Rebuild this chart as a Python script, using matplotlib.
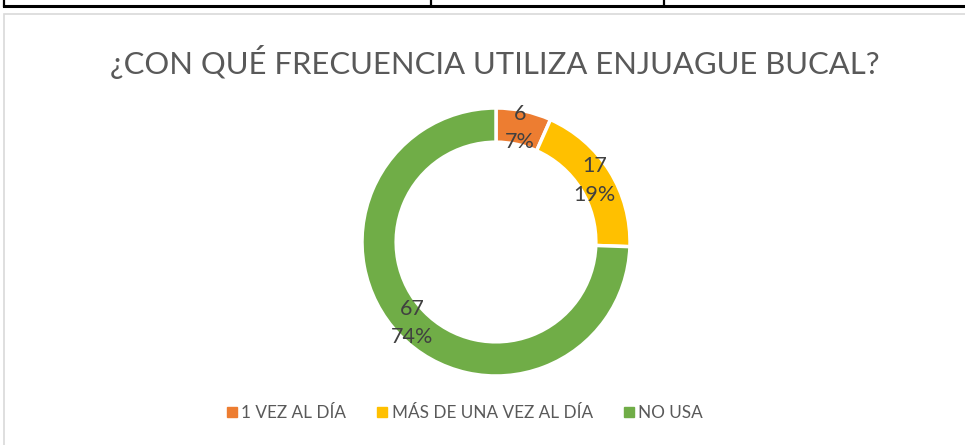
import numpy as np
import matplotlib.pyplot as plt
from matplotlib.lines import Line2D
from matplotlib.patches import Rectangle

plt.rcParams['font.family'] = ['Lato', 'DejaVu Sans']

categories = ['1 VEZ AL DÍA', 'MÁS DE UNA VEZ AL DÍA', 'NO USA']
values = [6, 17, 67]
colors = ['#ED7D31', '#FFC000', '#70AD47']
title = '¿CON QUÉ FRECUENCIA UTILIZA ENJUAGUE BUCAL?'

W, H = 965, 445
fig = plt.figure(figsize=(W / 100, H / 100), dpi=100)

def fx(px):
    return px / W

def fy(py):
    return 1 - py / H

# table border remnants at the top
fig.add_artist(Line2D([fx(4), fx(965)], [fy(5.5), fy(5.5)], color='black', lw=2.2))
for x in [4, 431, 664]:
    fig.add_artist(Line2D([fx(x), fx(x)], [fy(0), fy(5.5)], color='black', lw=1.6))

# chart frame
fig.add_artist(Rectangle((fx(4), fy(460)), fx(980), fy(14) - fy(460),
                         fill=False, edgecolor='#D9D9D9', lw=1.2))

fig.text(fx(495), fy(62), title, ha='center', va='center',
         fontsize=22.3, color='#595959')

# donut
cx, cy, r = 496, 242, 134
half = 160
ax = fig.add_axes([fx(cx - half), fy(cy + half), fx(2 * half), fy(0) - fy(2 * half)])
lim = half / r
wedges, _ = ax.pie(values, colors=colors, startangle=90, counterclock=False,
                   radius=1, wedgeprops=dict(width=0.255, edgecolor='white', linewidth=2.5))
ax.set_xlim(-lim, lim)
ax.set_ylim(-lim, lim)
ax.set_aspect('equal')
ax.axis('off')

total = sum(values)
for w, v in zip(wedges, values):
    ang = np.deg2rad((w.theta1 + w.theta2) / 2)
    rr = 0.87
    ax.text(rr * np.cos(ang), rr * np.sin(ang), f'{v}\n{v / total:.0%}',
            ha='center', va='center', fontsize=15.5, color='#404040', linespacing=1.55)

handles = [Line2D([], [], marker='s', linestyle='', markersize=6.5, color=c) for c in colors]
fig.legend(handles, categories, loc='center', bbox_to_anchor=(fx(463), fy(413)),
           ncol=3, frameon=False, fontsize=12.3, handletextpad=0.05,
           columnspacing=1.6, handlelength=1.0, labelcolor='#595959')

fig.savefig('out.png', dpi=100)
